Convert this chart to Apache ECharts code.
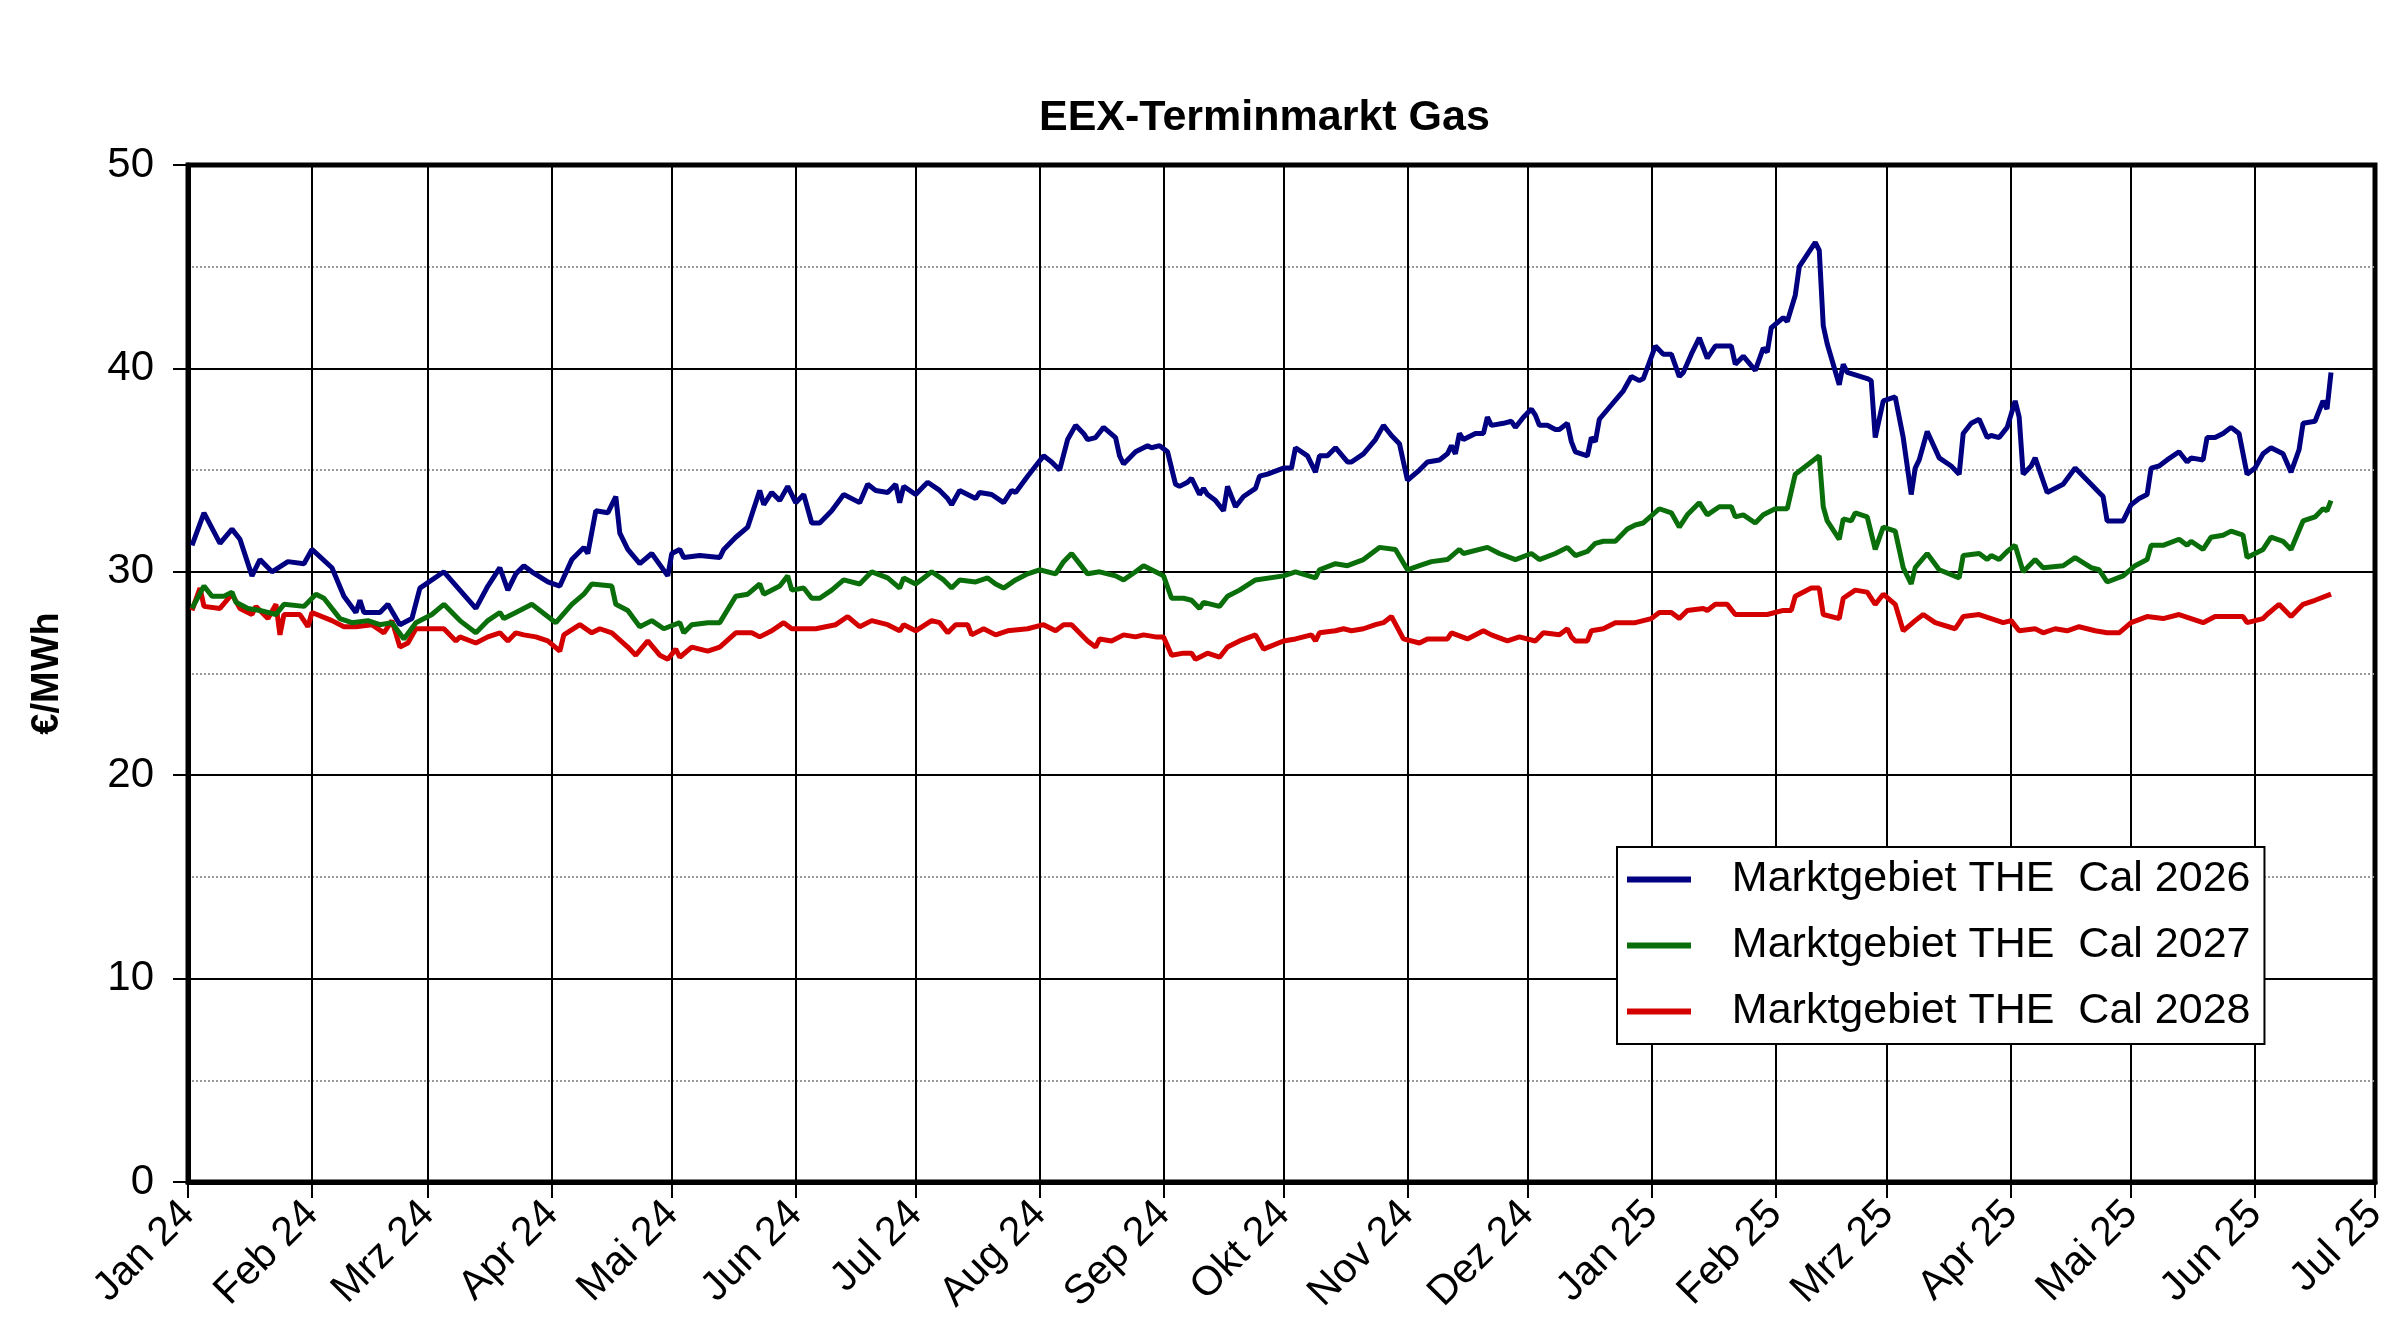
<!DOCTYPE html>
<html>
<head>
    <meta charset="utf-8">
    <title>EEX-Terminmarkt Gas</title>
    <script src="https://cdn.jsdelivr.net/npm/echarts@6/dist/echarts.min.js"></script>
    <style>
        html, body { margin: 0; padding: 0; background: #fff; }
    </style>
</head>
<body>
<div id="main" style="width: 2400px;height:1340px;"></div>
<script type="text/javascript">
    // Monatsachse
    var monthLabels = ['Jan 24', 'Feb 24', 'Mrz 24', 'Apr 24', 'Mai 24', 'Jun 24', 'Jul 24', 'Aug 24', 'Sep 24',
        'Okt 24', 'Nov 24', 'Dez 24', 'Jan 25', 'Feb 25', 'Mrz 25', 'Apr 25', 'Mai 25', 'Jun 25', 'Jul 25'];

    var seriesNames = ['Marktgebiet THE  Cal 2026', 'Marktgebiet THE  Cal 2027', 'Marktgebiet THE  Cal 2028'];

    // Marktgebiet THE Cal 2026 (EUR/MWh)
    var cal2026 = [
        ['2024-01-02',31.3],['2024-01-05',32.9],['2024-01-09',31.4],['2024-01-12',32.1],['2024-01-14',31.6],
        ['2024-01-17',29.8],['2024-01-19',30.6],['2024-01-22',30.0],['2024-01-26',30.5],['2024-01-30',30.4],
        ['2024-02-01',31.1],['2024-02-06',30.2],['2024-02-09',28.8],['2024-02-12',28.0],['2024-02-13',28.6],
        ['2024-02-14',28.0],['2024-02-18',28.0],['2024-02-20',28.4],['2024-02-23',27.4],['2024-02-26',27.7],
        ['2024-02-28',29.2],['2024-03-05',30.0],['2024-03-09',29.1],['2024-03-13',28.2],['2024-03-16',29.3],
        ['2024-03-19',30.2],['2024-03-21',29.1],['2024-03-23',29.9],['2024-03-25',30.3],['2024-03-27',30.0],
        ['2024-03-31',29.5],['2024-04-03',29.3],['2024-04-06',30.6],['2024-04-09',31.2],['2024-04-10',30.9],
        ['2024-04-12',33.0],['2024-04-15',32.9],['2024-04-17',33.7],['2024-04-18',31.9],['2024-04-20',31.1],
        ['2024-04-23',30.4],['2024-04-26',30.9],['2024-04-30',29.8],['2024-05-01',30.9],['2024-05-03',31.1],
        ['2024-05-04',30.7],['2024-05-08',30.8],['2024-05-13',30.7],['2024-05-14',31.1],['2024-05-17',31.7],
        ['2024-05-20',32.2],['2024-05-23',34.0],['2024-05-24',33.3],['2024-05-26',33.9],['2024-05-28',33.5],
        ['2024-05-30',34.2],['2024-06-01',33.4],['2024-06-03',33.8],['2024-06-05',32.4],['2024-06-07',32.4],
        ['2024-06-10',33.0],['2024-06-13',33.8],['2024-06-17',33.4],['2024-06-19',34.3],['2024-06-21',34.0],
        ['2024-06-24',33.9],['2024-06-26',34.3],['2024-06-27',33.4],['2024-06-28',34.2],['2024-07-01',33.8],
        ['2024-07-03',34.2],['2024-07-04',34.4],['2024-07-07',34.0],['2024-07-09',33.6],['2024-07-10',33.3],
        ['2024-07-12',34.0],['2024-07-15',33.7],['2024-07-16',33.6],['2024-07-17',33.9],['2024-07-20',33.8],
        ['2024-07-23',33.4],['2024-07-25',34.0],['2024-07-26',33.9],['2024-07-29',34.7],['2024-07-31',35.2],
        ['2024-08-02',35.7],['2024-08-04',35.4],['2024-08-06',35.0],['2024-08-08',36.5],['2024-08-10',37.2],
        ['2024-08-12',36.8],['2024-08-13',36.5],['2024-08-15',36.6],['2024-08-17',37.1],['2024-08-20',36.6],
        ['2024-08-21',35.7],['2024-08-22',35.3],['2024-08-25',35.9],['2024-08-28',36.2],['2024-08-29',36.1],
        ['2024-08-31',36.2],['2024-09-02',35.9],['2024-09-04',34.3],['2024-09-05',34.2],['2024-09-07',34.4],
        ['2024-09-08',34.6],['2024-09-10',33.8],['2024-09-11',34.1],['2024-09-12',33.8],['2024-09-14',33.5],
        ['2024-09-16',33.0],['2024-09-17',34.2],['2024-09-19',33.2],['2024-09-21',33.7],['2024-09-24',34.1],
        ['2024-09-25',34.7],['2024-09-27',34.8],['2024-10-01',35.1],['2024-10-03',35.1],['2024-10-04',36.1],
        ['2024-10-07',35.7],['2024-10-09',34.9],['2024-10-10',35.7],['2024-10-12',35.7],['2024-10-14',36.1],
        ['2024-10-17',35.4],['2024-10-18',35.4],['2024-10-21',35.8],['2024-10-24',36.5],['2024-10-26',37.2],
        ['2024-10-28',36.7],['2024-10-30',36.3],['2024-10-31',35.4],['2024-11-01',34.5],['2024-11-04',35.0],
        ['2024-11-06',35.4],['2024-11-09',35.5],['2024-11-11',35.8],['2024-11-12',36.2],['2024-11-13',35.8],
        ['2024-11-14',36.8],['2024-11-15',36.5],['2024-11-18',36.8],['2024-11-20',36.8],['2024-11-21',37.6],
        ['2024-11-22',37.2],['2024-11-25',37.3],['2024-11-27',37.4],['2024-11-28',37.1],['2024-11-30',37.6],
        ['2024-12-02',38.0],['2024-12-03',37.7],['2024-12-04',37.2],['2024-12-06',37.2],['2024-12-08',37.0],
        ['2024-12-09',37.0],['2024-12-11',37.3],['2024-12-12',36.4],['2024-12-13',35.9],['2024-12-16',35.7],
        ['2024-12-17',36.6],['2024-12-18',36.4],['2024-12-19',37.5],['2024-12-22',38.2],['2024-12-25',38.9],
        ['2024-12-27',39.6],['2024-12-29',39.4],['2024-12-30',39.5],['2025-01-02',41.1],['2025-01-04',40.7],
        ['2025-01-06',40.7],['2025-01-08',39.6],['2025-01-09',39.8],['2025-01-11',40.7],['2025-01-13',41.5],
        ['2025-01-15',40.5],['2025-01-17',41.1],['2025-01-21',41.1],['2025-01-22',40.2],['2025-01-24',40.6],
        ['2025-01-27',39.9],['2025-01-29',41.0],['2025-01-30',40.8],['2025-01-31',42.0],['2025-02-03',42.5],
        ['2025-02-04',42.3],['2025-02-06',43.6],['2025-02-07',45.0],['2025-02-11',46.2],['2025-02-12',45.8],
        ['2025-02-13',42.1],['2025-02-14',41.2],['2025-02-17',39.2],['2025-02-18',40.2],['2025-02-19',39.8],
        ['2025-02-24',39.5],['2025-02-25',39.4],['2025-02-26',36.6],['2025-02-28',38.4],['2025-03-03',38.6],
        ['2025-03-05',36.6],['2025-03-07',33.8],['2025-03-08',35.1],['2025-03-09',35.5],['2025-03-11',36.9],
        ['2025-03-14',35.6],['2025-03-17',35.2],['2025-03-19',34.8],['2025-03-20',36.8],['2025-03-22',37.3],
        ['2025-03-24',37.5],['2025-03-26',36.6],['2025-03-27',36.7],['2025-03-29',36.6],['2025-03-31',37.1],
        ['2025-04-02',38.4],['2025-04-03',37.6],['2025-04-04',34.8],['2025-04-06',35.2],['2025-04-07',35.6],
        ['2025-04-10',33.9],['2025-04-14',34.3],['2025-04-17',35.1],['2025-04-21',34.3],['2025-04-23',33.9],
        ['2025-04-24',33.7],['2025-04-25',32.5],['2025-04-29',32.5],['2025-05-01',33.3],['2025-05-03',33.6],
        ['2025-05-05',33.8],['2025-05-06',35.1],['2025-05-08',35.2],['2025-05-10',35.5],['2025-05-13',35.9],
        ['2025-05-15',35.4],['2025-05-16',35.6],['2025-05-19',35.5],['2025-05-20',36.6],['2025-05-22',36.6],
        ['2025-05-24',36.8],['2025-05-26',37.1],['2025-05-28',36.8],['2025-05-30',34.8],['2025-06-01',35.1],
        ['2025-06-03',35.8],['2025-06-05',36.1],['2025-06-08',35.8],['2025-06-10',34.9],['2025-06-12',36.0],
        ['2025-06-13',37.3],['2025-06-16',37.4],['2025-06-18',38.4],['2025-06-19',38.0],['2025-06-20',39.8]
    ];

    // Marktgebiet THE Cal 2027 (EUR/MWh)
    var cal2027 = [
        ['2024-01-02',28.2],['2024-01-05',29.3],['2024-01-07',28.8],['2024-01-10',28.8],['2024-01-12',29.0],
        ['2024-01-13',28.5],['2024-01-16',28.2],['2024-01-19',28.1],['2024-01-23',27.9],['2024-01-25',28.4],
        ['2024-01-30',28.3],['2024-02-02',28.9],['2024-02-04',28.7],['2024-02-08',27.7],['2024-02-11',27.5],
        ['2024-02-15',27.6],['2024-02-18',27.4],['2024-02-21',27.5],['2024-02-24',26.7],['2024-02-27',27.5],
        ['2024-03-02',27.9],['2024-03-05',28.4],['2024-03-09',27.6],['2024-03-13',27.0],['2024-03-16',27.6],
        ['2024-03-19',28.0],['2024-03-20',27.7],['2024-03-23',28.0],['2024-03-27',28.4],['2024-04-02',27.5],
        ['2024-04-06',28.4],['2024-04-09',28.9],['2024-04-11',29.4],['2024-04-16',29.3],['2024-04-17',28.4],
        ['2024-04-20',28.1],['2024-04-23',27.3],['2024-04-26',27.6],['2024-04-29',27.2],['2024-05-03',27.5],
        ['2024-05-04',27.0],['2024-05-06',27.4],['2024-05-10',27.5],['2024-05-13',27.5],['2024-05-17',28.8],
        ['2024-05-20',28.9],['2024-05-23',29.4],['2024-05-24',28.9],['2024-05-28',29.3],['2024-05-30',29.8],
        ['2024-05-31',29.1],['2024-06-03',29.2],['2024-06-05',28.7],['2024-06-07',28.7],['2024-06-10',29.1],
        ['2024-06-13',29.6],['2024-06-17',29.4],['2024-06-20',30.0],['2024-06-24',29.7],['2024-06-27',29.2],
        ['2024-06-28',29.7],['2024-07-01',29.4],['2024-07-03',29.7],['2024-07-05',30.0],['2024-07-08',29.6],
        ['2024-07-10',29.2],['2024-07-12',29.6],['2024-07-16',29.5],['2024-07-19',29.7],['2024-07-21',29.4],
        ['2024-07-23',29.2],['2024-07-26',29.6],['2024-07-29',29.9],['2024-08-01',30.1],['2024-08-05',29.9],
        ['2024-08-07',30.5],['2024-08-09',30.9],['2024-08-11',30.4],['2024-08-13',29.9],['2024-08-16',30.0],
        ['2024-08-20',29.8],['2024-08-22',29.6],['2024-08-25',30.0],['2024-08-27',30.3],['2024-08-30',30.0],
        ['2024-09-01',29.8],['2024-09-03',28.7],['2024-09-06',28.7],['2024-09-08',28.6],['2024-09-10',28.2],
        ['2024-09-11',28.5],['2024-09-15',28.3],['2024-09-17',28.8],['2024-09-20',29.1],['2024-09-24',29.6],
        ['2024-10-01',29.8],['2024-10-04',30.0],['2024-10-09',29.7],['2024-10-10',30.1],['2024-10-14',30.4],
        ['2024-10-17',30.3],['2024-10-21',30.6],['2024-10-25',31.2],['2024-10-29',31.1],['2024-11-01',30.1],
        ['2024-11-04',30.3],['2024-11-07',30.5],['2024-11-11',30.6],['2024-11-14',31.1],['2024-11-15',30.9],
        ['2024-11-21',31.2],['2024-11-24',30.9],['2024-11-28',30.6],['2024-12-02',30.9],['2024-12-04',30.6],
        ['2024-12-08',30.9],['2024-12-11',31.2],['2024-12-13',30.8],['2024-12-16',31.0],['2024-12-18',31.4],
        ['2024-12-20',31.5],['2024-12-23',31.5],['2024-12-26',32.1],['2024-12-28',32.3],['2024-12-30',32.4],
        ['2025-01-03',33.1],['2025-01-06',32.9],['2025-01-08',32.2],['2025-01-10',32.8],['2025-01-13',33.4],
        ['2025-01-15',32.8],['2025-01-18',33.2],['2025-01-21',33.2],['2025-01-22',32.7],['2025-01-24',32.8],
        ['2025-01-27',32.4],['2025-01-29',32.8],['2025-02-01',33.1],['2025-02-04',33.1],['2025-02-06',34.8],
        ['2025-02-10',35.4],['2025-02-12',35.7],['2025-02-13',33.2],['2025-02-14',32.5],['2025-02-17',31.6],
        ['2025-02-18',32.6],['2025-02-20',32.5],['2025-02-21',32.9],['2025-02-24',32.7],['2025-02-26',31.1],
        ['2025-02-28',32.2],['2025-03-03',32.0],['2025-03-05',30.2],['2025-03-07',29.4],['2025-03-08',30.2],
        ['2025-03-11',30.9],['2025-03-14',30.1],['2025-03-19',29.7],['2025-03-20',30.8],['2025-03-24',30.9],
        ['2025-03-26',30.6],['2025-03-27',30.8],['2025-03-29',30.6],['2025-03-31',31.0],['2025-04-02',31.3],
        ['2025-04-04',30.0],['2025-04-07',30.6],['2025-04-09',30.2],['2025-04-14',30.3],['2025-04-17',30.7],
        ['2025-04-21',30.2],['2025-04-23',30.1],['2025-04-25',29.5],['2025-04-29',29.8],['2025-05-02',30.3],
        ['2025-05-05',30.6],['2025-05-06',31.3],['2025-05-09',31.3],['2025-05-13',31.6],['2025-05-15',31.3],
        ['2025-05-16',31.5],['2025-05-19',31.1],['2025-05-21',31.7],['2025-05-24',31.8],['2025-05-26',32.0],
        ['2025-05-29',31.8],['2025-05-30',30.7],['2025-06-03',31.1],['2025-06-05',31.7],['2025-06-08',31.5],
        ['2025-06-10',31.1],['2025-06-13',32.5],['2025-06-16',32.7],['2025-06-18',33.1],['2025-06-19',33.0],
        ['2025-06-20',33.5]
    ];

    // Marktgebiet THE Cal 2028 (EUR/MWh)
    var cal2028 = [
        ['2024-01-02',28.1],['2024-01-04',29.2],['2024-01-05',28.3],['2024-01-09',28.2],['2024-01-12',28.9],
        ['2024-01-14',28.2],['2024-01-17',27.9],['2024-01-18',28.3],['2024-01-21',27.7],['2024-01-23',28.4],
        ['2024-01-24',26.9],['2024-01-25',27.9],['2024-01-29',27.9],['2024-01-31',27.3],['2024-02-01',28.0],
        ['2024-02-06',27.6],['2024-02-09',27.3],['2024-02-12',27.3],['2024-02-16',27.4],['2024-02-19',27.0],
        ['2024-02-21',27.6],['2024-02-23',26.3],['2024-02-25',26.5],['2024-02-27',27.2],['2024-03-02',27.2],
        ['2024-03-05',27.2],['2024-03-08',26.6],['2024-03-09',26.8],['2024-03-13',26.5],['2024-03-16',26.8],
        ['2024-03-19',27.0],['2024-03-21',26.6],['2024-03-23',27.0],['2024-03-25',26.9],['2024-03-28',26.8],
        ['2024-03-31',26.6],['2024-04-03',26.1],['2024-04-04',26.9],['2024-04-08',27.4],['2024-04-11',27.0],
        ['2024-04-13',27.2],['2024-04-16',27.0],['2024-04-20',26.3],['2024-04-22',25.9],['2024-04-25',26.6],
        ['2024-04-28',25.9],['2024-04-30',25.7],['2024-05-02',26.2],['2024-05-03',25.8],['2024-05-06',26.3],
        ['2024-05-10',26.1],['2024-05-13',26.3],['2024-05-17',27.0],['2024-05-21',27.0],['2024-05-23',26.8],
        ['2024-05-26',27.1],['2024-05-29',27.5],['2024-05-31',27.2],['2024-06-06',27.2],['2024-06-11',27.4],
        ['2024-06-14',27.8],['2024-06-17',27.3],['2024-06-20',27.6],['2024-06-24',27.4],['2024-06-27',27.1],
        ['2024-06-28',27.4],['2024-07-01',27.1],['2024-07-05',27.6],['2024-07-07',27.5],['2024-07-09',27.0],
        ['2024-07-11',27.4],['2024-07-14',27.4],['2024-07-15',26.9],['2024-07-18',27.2],['2024-07-21',26.9],
        ['2024-07-24',27.1],['2024-07-29',27.2],['2024-08-02',27.4],['2024-08-05',27.1],['2024-08-07',27.4],
        ['2024-08-09',27.4],['2024-08-13',26.6],['2024-08-15',26.3],['2024-08-16',26.7],['2024-08-19',26.6],
        ['2024-08-22',26.9],['2024-08-25',26.8],['2024-08-27',26.9],['2024-08-30',26.8],['2024-09-01',26.8],
        ['2024-09-03',25.9],['2024-09-06',26.0],['2024-09-08',26.0],['2024-09-09',25.7],['2024-09-12',26.0],
        ['2024-09-15',25.8],['2024-09-17',26.3],['2024-09-20',26.6],['2024-09-24',26.9],['2024-09-26',26.2],
        ['2024-10-01',26.6],['2024-10-04',26.7],['2024-10-08',26.9],['2024-10-09',26.6],['2024-10-10',27.0],
        ['2024-10-14',27.1],['2024-10-16',27.2],['2024-10-18',27.1],['2024-10-21',27.2],['2024-10-24',27.4],
        ['2024-10-26',27.5],['2024-10-28',27.8],['2024-10-31',26.7],['2024-11-04',26.5],['2024-11-06',26.7],
        ['2024-11-11',26.7],['2024-11-12',27.0],['2024-11-16',26.7],['2024-11-20',27.1],['2024-11-22',26.9],
        ['2024-11-26',26.6],['2024-11-29',26.8],['2024-12-03',26.6],['2024-12-05',27.0],['2024-12-09',26.9],
        ['2024-12-11',27.2],['2024-12-12',26.8],['2024-12-13',26.6],['2024-12-16',26.6],['2024-12-17',27.1],
        ['2024-12-20',27.2],['2024-12-23',27.5],['2024-12-28',27.5],['2025-01-01',27.7],['2025-01-03',28.0],
        ['2025-01-06',28.0],['2025-01-08',27.7],['2025-01-10',28.1],['2025-01-14',28.2],['2025-01-15',28.1],
        ['2025-01-17',28.4],['2025-01-20',28.4],['2025-01-22',27.9],['2025-01-27',27.9],['2025-01-30',27.9],
        ['2025-02-03',28.1],['2025-02-05',28.1],['2025-02-06',28.8],['2025-02-10',29.2],['2025-02-12',29.2],
        ['2025-02-13',27.9],['2025-02-17',27.7],['2025-02-18',28.7],['2025-02-21',29.1],['2025-02-24',29.0],
        ['2025-02-26',28.4],['2025-02-28',28.9],['2025-03-03',28.4],['2025-03-05',27.1],['2025-03-08',27.6],
        ['2025-03-10',27.9],['2025-03-13',27.5],['2025-03-18',27.2],['2025-03-20',27.8],['2025-03-24',27.9],
        ['2025-03-27',27.7],['2025-03-30',27.5],['2025-04-01',27.6],['2025-04-03',27.1],['2025-04-07',27.2],
        ['2025-04-09',27.0],['2025-04-12',27.2],['2025-04-15',27.1],['2025-04-18',27.3],['2025-04-22',27.1],
        ['2025-04-25',27.0],['2025-04-28',27.0],['2025-05-01',27.5],['2025-05-05',27.8],['2025-05-09',27.7],
        ['2025-05-13',27.9],['2025-05-16',27.7],['2025-05-19',27.5],['2025-05-22',27.8],['2025-05-29',27.8],
        ['2025-05-30',27.5],['2025-06-03',27.7],['2025-06-04',27.9],['2025-06-07',28.4],['2025-06-10',27.8],
        ['2025-06-13',28.4],['2025-06-16',28.6],['2025-06-20',28.9]
    ];

    var lineColors = ['#000080', '#0a6e0a', '#d40000'];

    // Monatsanfaenge fuer Ticks und Gitter
    var monthStarts = monthLabels.map(function (l, i) {
        return new Date(2024, i, 1).getTime();
    });

    // Datum -> Zeitstempel fuer die Werteachse
    function toPoints(rows) {
        return rows.map(function (r) {
            return [echarts.time.parse(r[0]).getTime(), r[1]];
        });
    }

    var myChart = echarts.init(document.getElementById('main'));
    var font = 'Liberation Sans, Arial, sans-serif';

    var option = {
        animation: false,
        backgroundColor: '#fff',
        title: {
            text: 'EEX-Terminmarkt Gas',
            left: 1034,
            top: 92,
            textStyle: {
                fontFamily: font,
                fontSize: 43,
                fontWeight: 'bold',
                color: '#000'
            }
        },
        legend: {
            orient: 'vertical',
            left: 1617,
            top: 847,
            backgroundColor: '#fff',
            borderColor: '#000',
            borderWidth: 2,
            padding: [11, 14, 11, 10],
            itemWidth: 64,
            itemHeight: 6,
            itemGap: 23,
            icon: 'rect',
            formatter: function (name) {
                return '   ' + name;
            },
            textStyle: {
                fontFamily: font,
                fontSize: 43,
                color: '#000'
            },
            data: seriesNames
        },
        grid: {
            left: 188,
            right: 25,
            top: 165,
            bottom: 158,
            show: true,
            borderColor: '#000',
            borderWidth: 5,
            backgroundColor: '#fff'
        },
        xAxis: {
            type: 'value',
            min: monthStarts[0],
            max: monthStarts[monthStarts.length - 1],
            axisLine: {
                show: true,
                lineStyle: { color: '#000', width: 5 }
            },
            axisTick: {
                show: true,
                customValues: monthStarts,
                length: 16,
                lineStyle: { color: '#000', width: 2 }
            },
            axisLabel: {
                customValues: monthStarts,
                rotate: 45,
                margin: 26,
                fontFamily: font,
                fontSize: 41,
                color: '#000',
                hideOverlap: false,
                formatter: function (value) {
                    var d = new Date(value);
                    var idx = (d.getFullYear() - 2024) * 12 + d.getMonth();
                    return monthLabels[idx] || '';
                }
            },
            splitLine: {
                show: true,
                lineStyle: { color: '#000', width: 2 }
            }
        },
        yAxis: {
            type: 'value',
            min: 0,
            max: 50,
            interval: 10,
            name: '€/MWh',
            nameLocation: 'middle',
            nameGap: 121,
            nameTextStyle: {
                fontFamily: font,
                fontSize: 38,
                fontWeight: 'bold',
                color: '#000'
            },
            axisLine: {
                show: true,
                lineStyle: { color: '#000', width: 5 }
            },
            axisTick: {
                show: true,
                length: 15,
                lineStyle: { color: '#000', width: 2 }
            },
            axisLabel: {
                margin: 34,
                fontFamily: font,
                fontSize: 42,
                color: '#000'
            },
            splitLine: {
                show: true,
                lineStyle: { color: '#000', width: 2 }
            },
            minorTick: {
                show: false,
                splitNumber: 2
            },
            minorSplitLine: {
                show: true,
                lineStyle: { color: '#999', width: 2, type: 'dotted' }
            }
        },
        series: [
            {
                name: seriesNames[0],
                type: 'line',
                data: toPoints(cal2026),
                showSymbol: false,
                symbol: 'none',
                color: lineColors[0],
                lineStyle: { width: 5, color: lineColors[0] },
                z: 5
            },
            {
                name: seriesNames[1],
                type: 'line',
                data: toPoints(cal2027),
                showSymbol: false,
                symbol: 'none',
                color: lineColors[1],
                lineStyle: { width: 5, color: lineColors[1] },
                z: 4
            },
            {
                name: seriesNames[2],
                type: 'line',
                data: toPoints(cal2028),
                showSymbol: false,
                symbol: 'none',
                color: lineColors[2],
                lineStyle: { width: 5, color: lineColors[2] },
                z: 3
            }
        ]
    };

    if (option && typeof option === "object") {
        myChart.setOption(option, true);
    }
</script>
</body>
</html>
